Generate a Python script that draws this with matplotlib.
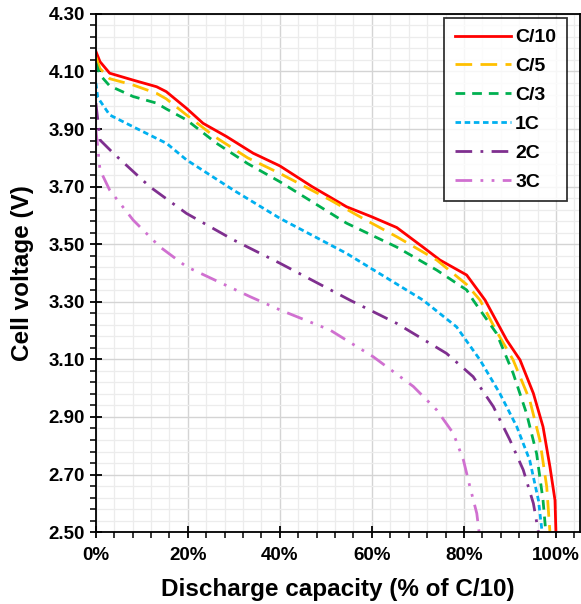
import matplotlib
matplotlib.use("Agg")
import matplotlib.pyplot as plt
from matplotlib.ticker import MultipleLocator, FuncFormatter

plt.rcParams['font.family'] = ['Liberation Sans', 'DejaVu Sans']
plt.rcParams['font.weight'] = 'bold'

# discharge capacity (fraction of C/10) and cell voltage
x_c10 = [0.0, 0.009, 0.03, 0.081, 0.132, 0.153, 0.197, 0.233, 0.284, 0.342, 0.40, 0.47, 0.545,
         0.60, 0.654, 0.711, 0.748, 0.806, 0.846, 0.893, 0.922, 0.951, 0.972, 0.987, 0.998, 1.0]
v_c10 = [4.17, 4.134, 4.094, 4.07, 4.047, 4.03, 3.972, 3.92, 3.874, 3.816, 3.772, 3.70, 3.63,
         3.595, 3.558, 3.49, 3.445, 3.393, 3.306, 3.167, 3.098, 2.982, 2.866, 2.727, 2.611, 2.50]

x_c5 = [0.0, 0.009, 0.03, 0.081, 0.132, 0.153, 0.197, 0.258, 0.33, 0.40, 0.509, 0.58, 0.654,
        0.741, 0.806, 0.835, 0.87, 0.907, 0.943, 0.965, 0.98, 0.987]
v_c5 = [4.15, 4.11, 4.075, 4.053, 4.024, 4.005, 3.949, 3.874, 3.80, 3.746, 3.654, 3.59, 3.526,
        3.445, 3.36, 3.306, 3.20, 3.098, 2.959, 2.82, 2.658, 2.50]

x_c3 = [0.0, 0.009, 0.03, 0.081, 0.132, 0.153, 0.197, 0.262, 0.33, 0.40, 0.545, 0.654, 0.741,
        0.806, 0.82, 0.871, 0.907, 0.936, 0.958, 0.972, 0.978]
v_c3 = [4.13, 4.088, 4.05, 4.013, 3.99, 3.97, 3.932, 3.851, 3.78, 3.717, 3.573, 3.49, 3.41,
        3.341, 3.306, 3.19, 3.052, 2.913, 2.773, 2.611, 2.50]

x_1c = [0.0, 0.004, 0.03, 0.081, 0.154, 0.197, 0.299, 0.40, 0.545, 0.711, 0.784, 0.835,
        0.878, 0.915, 0.943, 0.962, 0.970]
v_1c = [4.06, 4.01, 3.949, 3.908, 3.85, 3.793, 3.688, 3.59, 3.468, 3.306, 3.213, 3.098,
        2.982, 2.866, 2.75, 2.611, 2.50]

x_2c = [0.0, 0.009, 0.038, 0.117, 0.197, 0.299, 0.40, 0.552, 0.654, 0.762, 0.82, 0.864,
        0.90, 0.929, 0.951, 0.962]
v_2c = [3.99, 3.862, 3.816, 3.70, 3.607, 3.515, 3.434, 3.306, 3.225, 3.121, 3.04, 2.936,
        2.82, 2.716, 2.60, 2.50]

x_3c = [0.0, 0.009, 0.03, 0.081, 0.139, 0.197, 0.335, 0.40, 0.509, 0.603, 0.69, 0.741,
        0.777, 0.799, 0.813, 0.828, 0.833]
v_3c = [3.90, 3.758, 3.688, 3.584, 3.491, 3.422, 3.318, 3.272, 3.202, 3.109, 3.006, 2.924,
        2.843, 2.75, 2.658, 2.565, 2.50]

fig = plt.figure(figsize=(5.81, 6.04), dpi=100)
ax = fig.add_axes([0.165, 0.119, 0.833, 0.858])

ax.plot(x_c10, v_c10, color='#FF0000', lw=2, label='C/10')
ax.plot(x_c5, v_c5, color='#FFC000', lw=2, dashes=(6, 3), label='C/5')
ax.plot(x_c3, v_c3, color='#00B050', lw=2, dashes=(3.5, 2.5), label='C/3')
ax.plot(x_1c, v_1c, color='#00B0F0', lw=2, dashes=(2, 1.3), label='1C')
ax.plot(x_2c, v_2c, color='#7F2F8F', lw=2, dashes=(6, 3, 1, 3), label='2C')
ax.plot(x_3c, v_3c, color='#D070D0', lw=2, dashes=(6, 3, 1, 3, 1, 3), label='3C')

ax.set_xlim(0, 1.052)
ax.set_ylim(2.5, 4.3)
ax.xaxis.set_major_locator(MultipleLocator(0.2))
ax.xaxis.set_minor_locator(MultipleLocator(0.04))
ax.yaxis.set_major_locator(MultipleLocator(0.2, offset=0.1))
ax.yaxis.set_minor_locator(MultipleLocator(0.04, offset=0.02))
ax.xaxis.set_major_formatter(FuncFormatter(lambda v, p: f"{v*100:.0f}%"))
ax.yaxis.set_major_formatter(FuncFormatter(lambda v, p: f"{v:.2f}"))

ax.grid(which='major', color='#d4d4d4', lw=1)
ax.grid(which='minor', color='#ececec', lw=0.9)
ax.set_axisbelow(True)

ax.tick_params(which='major', direction='inout', length=9, width=1.3, labelsize=13.5, color='black')
ax.tick_params(which='minor', direction='out', length=4.5, width=1.1, color='black')
ax.tick_params(axis='x', pad=6)
for lab in ax.get_xticklabels() + ax.get_yticklabels():
    lab.set_fontweight('bold')
for s in ax.spines.values():
    s.set_linewidth(1.3)

ax.set_xlabel('Discharge capacity (% of C/10)', fontsize=17.5, fontweight='bold', labelpad=10)
ax.set_ylabel('Cell voltage (V)', fontsize=17.5, fontweight='bold', labelpad=10)

leg = ax.legend(loc='upper right', bbox_to_anchor=(0.973, 0.992), borderaxespad=0,
                fontsize=14, frameon=True, fancybox=False, edgecolor='black',
                handlelength=2.9, handletextpad=0.2, labelspacing=0.58, borderpad=0.55)
leg.get_frame().set_linewidth(1.3)
for t in leg.get_texts():
    t.set_fontweight('bold')

fig.savefig('out.png', dpi=100)
